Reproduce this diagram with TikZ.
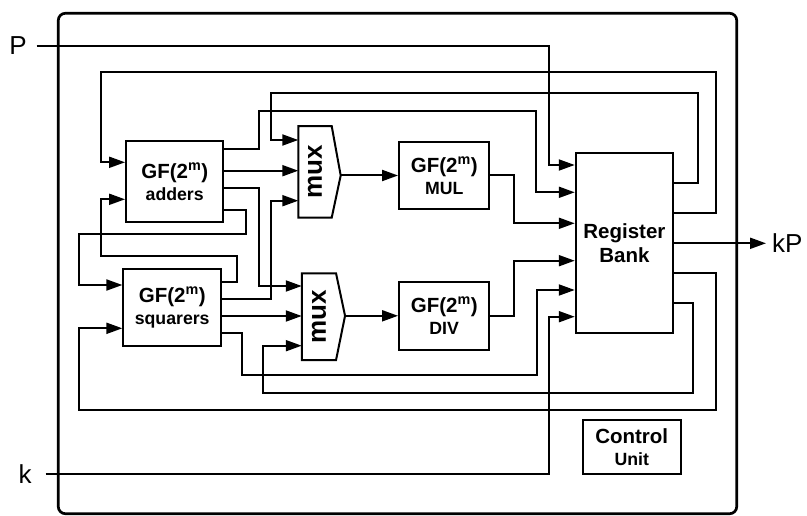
\documentclass[tikz,border=0pt]{standalone}
\usepackage{fontspec}
\setmainfont{Liberation Sans}
\usepackage{graphicx}
\usetikzlibrary{arrows.meta,calc}
\newcommand\mytxtL{\fontsize{20.5}{22}\selectfont}
\newcommand\mytxtS{\fontsize{17.7}{22}\selectfont}
\begin{document}
\begin{tikzpicture}[x=1pt,y=-1pt,
  wire/.style={line width=2pt},
  arr/.style={wire,-{Triangle[length=16pt,width=11pt]}},
  box/.style={draw,line width=2pt,inner sep=0pt,align=center,font=\bfseries\mytxtL},
  muxbox/.style={inner sep=0pt,outer sep=0pt,font=\bfseries\fontsize{26}{28}\selectfont},
  iolabel/.style={inner sep=0pt,font=\fontsize{26}{28}\selectfont}]
\useasboundingbox (0,0) rectangle (807,516);
% outer frame
\draw[line width=2.7pt,rounded corners=7pt] (58.3,13.3) rectangle (736.7,513.7);
% blocks
\node[box,minimum width=97.3pt,minimum height=81.6pt] (add) at (174.7,181.5)
  {GF(2\textsuperscript{m})\\\mytxtS adders};
\node[box,minimum width=97.7pt,minimum height=76.7pt] (sq) at (172.2,307.3)
  {GF(2\textsuperscript{m})\\\mytxtS squarers};
\node[box,minimum width=90.3pt,minimum height=67.6pt] (mul) at (444.2,175.5)
  {GF(2\textsuperscript{m})\\\mytxtS MUL};
\node[box,minimum width=90.3pt,minimum height=68.3pt] (div) at (444.2,315.8)
  {GF(2\textsuperscript{m})\\\mytxtS DIV};
\node[box,minimum width=97.3pt,minimum height=180pt,font=\bfseries\fontsize{20.5}{23.4}\selectfont] (reg) at (624.4,243.3)
  {Register\\Bank};
\node[box,minimum width=98pt,minimum height=54pt] (ctl) at (631.7,447)
  {Control\\\mytxtS Unit};
% multiplexers
\node[muxbox,minimum width=33.4pt,minimum height=91.7pt] (mux1) at (315,171.9) {\rotatebox{90}{mux}};
\node[muxbox,minimum width=34.3pt,minimum height=86.7pt] (mux2) at (318.9,316.7) {\rotatebox{90}{mux}};
\coordinate (m1tip) at ($(mux1.east |- mul.west)+(9,0)$);
\coordinate (m2tip) at ($(mux2.east |- div.west)+(9,0)$);
\draw[wire] (mux1.north west) -- (mux1.north east) -- (m1tip) -- (mux1.south east) -- (mux1.south west) -- cycle;
\draw[wire] (mux2.north west) -- (mux2.north east) -- (m2tip) -- (mux2.south east) -- (mux2.south west) -- cycle;
% I/O labels
\node[iolabel] (P) at (18,46) {P};
\node[iolabel] (k) at (25,474.3) {k};
\node[iolabel,anchor=west] (kP) at (772,243.3) {kP};
\coordinate (Pin) at (36.7,46);
\coordinate (kin) at (45.7,474.3);
% inputs P and k
\draw[arr] (Pin) -| (549,165) -- (reg.west |- 0,165);
\draw[arr] (kin) -| (549,316.7) -- (reg.west |- 0,316.7);
% adder outputs
\draw[arr] (add.east |- 0,149) -| (259,110.7) -| (535.7,192.3) -- (reg.west |- 0,192.3);
\draw[arr] (add.east |- 0,170.7) -- (mux1.west |- 0,170.7);
\draw[arr] (add.east |- 0,188.3) -| (259,286) -- (mux2.west |- 0,286);
\draw[arr] (add.east |- 0,210) -| (245.7,234.3) -| (79.3,285) -- (sq.west |- 0,285);
% squarer outputs
\draw[arr] (sq.east |- 0,281.7) -| (236.7,256) -| (100.7,199.3) -- (add.west |- 0,199.3);
\draw[arr] (sq.east |- 0,299) -| (271,200.7) -- (mux1.west |- 0,200.7);
\draw[arr] (sq.east |- 0,316) -- (mux2.west |- 0,316);
\draw[arr] (sq.east |- 0,333.3) -| (241.7,375) -| (536.7,290) -- (reg.west |- 0,290);
% mux to arithmetic units
\draw[arr] (m1tip) -- (mul.west);
\draw[arr] (m2tip) -- (div.west);
% arithmetic units to register bank
\draw[arr] (mul.east) -| (514.3,223.3) -- (reg.west |- 0,223.3);
\draw[arr] (div.east) -| (514.3,260.7) -- (reg.west |- 0,260.7);
% register bank outputs
\draw[arr] (reg.east |- 0,183.3) -| (698.3,93.3) -| (271,140) -- (mux1.west |- 0,140);
\draw[arr] (reg.east |- 0,212.7) -| (715.7,72.3) -| (100.7,162.3) -- (add.west |- 0,162.3);
\draw[arr] (reg.east |- kP.west) -- ([xshift=-6pt]kP.west);
\draw[arr] (reg.east |- 0,273.3) -| (715.7,410) -| (79.3,328.3) -- (sq.west |- 0,328.3);
\draw[arr] (reg.east |- 0,303.3) -| (693.3,392.7) -| (262.7,345.7) -- (mux2.west |- 0,345.7);
\end{tikzpicture}
\end{document}
